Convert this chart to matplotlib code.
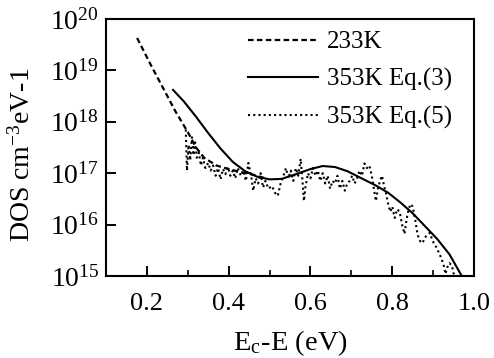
import numpy as np
import matplotlib
matplotlib.use("Agg")
import matplotlib.pyplot as plt
from matplotlib.ticker import FixedLocator, FuncFormatter

plt.rcParams['font.family'] = ['Liberation Serif', 'DejaVu Serif']
plt.rcParams['mathtext.fontset'] = 'stix'

# 233 K density of states (log10 of DOS)
x_233 = [0.176, 0.21, 0.24, 0.27, 0.30, 0.32, 0.34, 0.37, 0.40, 0.43, 0.46, 0.49]
logdos_233 = [19.63, 19.10, 18.65, 18.20, 17.80, 17.50, 17.30, 17.15, 17.08, 17.02, 16.97, 16.90]

# 353 K, Eq.(3)
x_eq3 = [0.264, 0.29, 0.32, 0.35, 0.38, 0.41, 0.44, 0.47, 0.50, 0.53, 0.56, 0.60,
         0.63, 0.66, 0.69, 0.72, 0.76, 0.79, 0.82, 0.85, 0.88, 0.91, 0.94, 0.97]
logdos_eq3 = [18.62, 18.40, 18.10, 17.78, 17.48, 17.22, 17.04, 16.93, 16.88, 16.89,
              16.97, 17.08, 17.14, 17.12, 17.04, 16.92, 16.76, 16.62, 16.43, 16.22,
              15.97, 15.72, 15.42, 15.00]

# 353 K, Eq.(5)
x_eq5 = [0.295, 0.298, 0.302, 0.306, 0.310, 0.314, 0.318, 0.322, 0.327, 0.332,
         0.337, 0.343, 0.350, 0.356, 0.362, 0.368, 0.374, 0.380, 0.386, 0.392,
         0.398, 0.404, 0.410, 0.416, 0.422, 0.430, 0.436, 0.442, 0.448, 0.455,
         0.460, 0.466, 0.472, 0.478, 0.484, 0.490, 0.497, 0.506, 0.513, 0.520,
         0.527, 0.534, 0.540, 0.546, 0.552, 0.558, 0.564, 0.570, 0.576, 0.580,
         0.584, 0.588, 0.594, 0.600, 0.606, 0.612, 0.618, 0.624, 0.630, 0.636,
         0.642, 0.648, 0.654, 0.660, 0.666, 0.672, 0.678, 0.684, 0.690, 0.696,
         0.702, 0.708, 0.714, 0.720, 0.726, 0.732, 0.738, 0.744, 0.750, 0.755,
         0.760, 0.765, 0.770, 0.775, 0.780, 0.785, 0.790, 0.795, 0.800, 0.806,
         0.812, 0.818, 0.824, 0.830, 0.835, 0.840, 0.845, 0.850, 0.856, 0.862,
         0.868, 0.874, 0.880, 0.886, 0.892, 0.898, 0.904, 0.909, 0.914, 0.920,
         0.926, 0.930, 0.934, 0.940, 0.946, 0.950, 0.955]
logdos_eq5 = [17.85, 17.05, 17.55, 17.25, 17.70, 17.35, 17.60, 17.30, 17.40, 17.15,
              17.30, 17.10, 17.20, 17.05, 17.15, 16.95, 17.10, 16.88, 17.08, 16.98,
              17.12, 16.95, 17.05, 16.90, 17.10, 16.95, 17.05, 16.85, 17.20, 16.95,
              16.66, 16.90, 16.80, 17.00, 16.72, 16.85, 16.70, 16.75, 16.62, 16.56,
              16.80, 16.95, 17.10, 16.90, 17.05, 16.85, 17.10, 16.95, 17.28, 16.90,
              16.46, 16.75, 17.00, 16.90, 17.10, 16.95, 17.05, 16.85, 17.00, 16.80,
              16.95, 16.70, 16.85, 16.80, 16.95, 16.70, 16.85, 16.66, 16.80, 16.85,
              16.95, 16.80, 16.90, 17.05, 16.95, 17.19, 17.10, 17.15, 16.95, 16.70,
              16.46, 16.70, 16.85, 16.95, 16.75, 16.60, 16.40, 16.25, 16.35, 16.13,
              16.30, 16.25, 16.00, 15.82, 16.10, 16.30, 16.40, 16.35, 16.10, 15.80,
              15.68, 15.64, 15.75, 15.80, 15.84, 15.70, 15.60, 15.55, 15.45, 15.35,
              15.20, 15.04, 15.16, 15.25, 15.20, 15.05, 15.00]

x_ticks = [0.2, 0.4, 0.6, 0.8, 1.0]
x_minor = [0.3, 0.5, 0.7, 0.9]
y_decades = [15, 16, 17, 18, 19, 20]
labels = ['233K', '353K Eq.(3)', '353K Eq.(5)']

fig = plt.figure(figsize=(4.94, 3.58), dpi=100)
ax = fig.add_axes([0.2146, 0.229, 0.745, 0.718])

ax.plot(x_233, np.power(10.0, logdos_233), color='black', lw=1.6,
        dashes=(2.5, 1.5), label=labels[0])
ax.plot(x_eq3, np.power(10.0, logdos_eq3), color='black', lw=1.5,
        label=labels[1])
ax.plot(x_eq5, np.power(10.0, logdos_eq5), color='black', lw=1.5,
        linestyle=(0, (1, 1.5)), label=labels[2])

ax.set_yscale('log')
ax.set_xlim(0.1, 1.0)
ax.set_ylim(1e15, 1e20)

ax.xaxis.set_major_locator(FixedLocator(x_ticks))
ax.xaxis.set_minor_locator(FixedLocator(x_minor))
ax.xaxis.set_major_formatter(FuncFormatter(lambda v, p: f'{v:.1f}'))
ax.yaxis.set_major_locator(FixedLocator([10.0 ** d for d in y_decades]))
ax.yaxis.set_minor_locator(FixedLocator([]))
ax.yaxis.set_major_formatter(
    FuncFormatter(lambda v, p: r'$\mathregular{10^{%d}}$' % round(np.log10(v))))

ax.tick_params(axis='both', which='major', direction='in', length=7, width=1.4,
               top=False, right=False)
ax.tick_params(axis='x', which='minor', direction='in', length=4, width=1.2,
               top=False)
ax.tick_params(axis='x', which='major', pad=12.5, labelsize=19)
ax.tick_params(axis='y', which='major', pad=5, labelsize=20)
for s in ax.spines.values():
    s.set_linewidth(1.5)

ax.set_xlabel(r'E$_{\mathregular{c}}$-E (eV)', fontsize=20.5, labelpad=9)
ax.set_ylabel(r'DOS cm$^{\mathregular{-3}}$eV-1', fontsize=20)
ax.yaxis.set_label_coords(-0.19, 0.47)

leg = ax.legend(loc='upper left', bbox_to_anchor=(248 / 494, 1 - 31 / 358),
                bbox_transform=fig.transFigure, frameon=False, fontsize=18,
                handlelength=2.8, handletextpad=0.36, labelspacing=0.58,
                borderpad=0, borderaxespad=0)

fig.savefig('out.png', dpi=100)
